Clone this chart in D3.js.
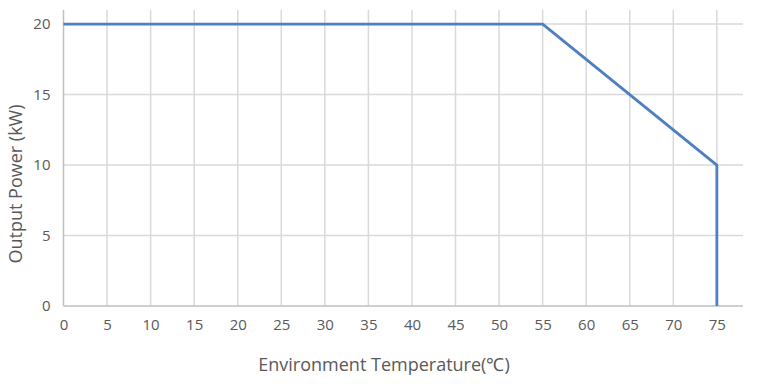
<!DOCTYPE html>
<html>
<head>
<meta charset="utf-8">
<script src="https://cdn.jsdelivr.net/npm/d3@7"></script>
<style>
  body { margin: 0; background: #fff; }
  text { font-family: "Open Sans", "Liberation Sans", sans-serif; fill: #595959; }
</style>
</head>
<body>
<script>
// data
var temps = [0, 55, 75, 75];
var power = [20, 20, 10, 0];
var xTicks = [0, 5, 10, 15, 20, 25, 30, 35, 40, 45, 50, 55, 60, 65, 70, 75];
var yTicks = [0, 5, 10, 15, 20];

var width = 773, height = 384;
var margin = {top: 10, right: 30, bottom: 78, left: 63.5};
var w = width - margin.left - margin.right;
var h = height - margin.top - margin.bottom;

var lineColor = '#4e7fc0';

var svg = d3.select('body').append('svg')
            .attr('width', width)
            .attr('height', height);

var g = svg.append('g')
           .attr('transform', 'translate(' + margin.left + ',' + margin.top + ')');

var xScale = d3.scaleLinear().domain([0, 78]).range([0, w]);
var yScale = d3.scaleLinear().domain([0, 21]).range([h, 0]);

// vertical gridlines
g.selectAll('.vgrid')
 .data(xTicks.slice(1))
 .enter().append('line')
 .attr('x1', function(d) { return xScale(d); })
 .attr('x2', function(d) { return xScale(d); })
 .attr('y1', 0)
 .attr('y2', h)
 .attr('stroke', '#d9d9d9')
 .attr('stroke-width', 1.5);

// horizontal gridlines
g.selectAll('.hgrid')
 .data(yTicks.slice(1))
 .enter().append('line')
 .attr('x1', 0)
 .attr('x2', w)
 .attr('y1', function(d) { return yScale(d); })
 .attr('y2', function(d) { return yScale(d); })
 .attr('stroke', '#d9d9d9')
 .attr('stroke-width', 1.5);

// axes lines
g.append('line')
 .attr('x1', 0).attr('x2', w)
 .attr('y1', h).attr('y2', h)
 .attr('stroke', '#bfbfbf').attr('stroke-width', 1.5);
g.append('line')
 .attr('x1', 0).attr('x2', 0)
 .attr('y1', 0).attr('y2', h)
 .attr('stroke', '#bfbfbf').attr('stroke-width', 1.5);

// tick labels
var xAxis = d3.axisBottom(xScale).tickValues(xTicks).tickSize(0).tickPadding(13);
var gx = g.append('g')
          .attr('transform', 'translate(0,' + h + ')')
          .call(xAxis);
gx.select('.domain').remove();
gx.selectAll('text').style('font-size', '15px').attr('fill', '#595959');

var yAxis = d3.axisLeft(yScale).tickValues(yTicks).tickSize(0).tickPadding(13);
var gy = g.append('g').call(yAxis);
gy.select('.domain').remove();
gy.selectAll('text').style('font-size', '15px').attr('fill', '#595959');

// the derating curve
var pts = temps.map(function(t, i) { return [t, power[i]]; });
var line = d3.line()
             .x(function(d) { return xScale(d[0]); })
             .y(function(d) { return yScale(d[1]); });
g.append('path')
 .datum(pts)
 .attr('d', line)
 .attr('fill', 'none')
 .attr('stroke', lineColor)
 .attr('stroke-width', 2.8)
 .attr('stroke-linejoin', 'round');

// titles
svg.append('text')
   .attr('text-anchor', 'middle')
   .attr('transform', 'translate(384,371)')
   .style('font-size', '18px')
   .text('Environment Temperature(℃)');

svg.append('text')
   .attr('text-anchor', 'middle')
   .attr('transform', 'translate(22,184)rotate(-90)')
   .style('font-size', '18px')
   .text('Output Power (kW)');
</script>
</body>
</html>
